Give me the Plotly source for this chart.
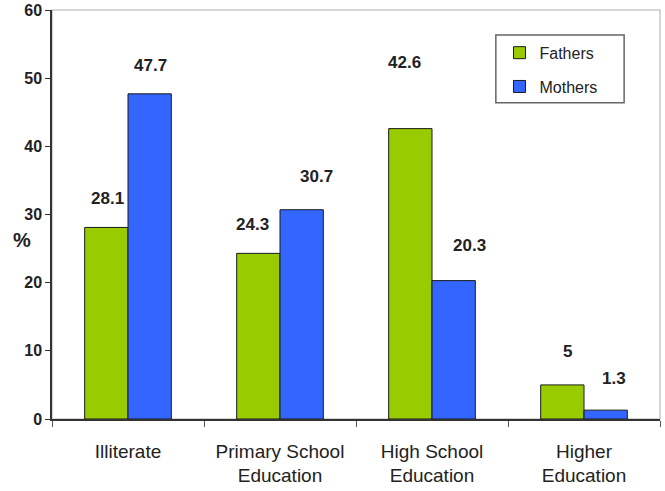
import plotly.graph_objects as go

categories = ["Illiterate", "Primary School<br>Education", "High School<br>Education", "Higher<br>Education"]
fathers = [28.1, 24.3, 42.6, 5]
mothers = [47.7, 30.7, 20.3, 1.3]
y_ticks = [0, 10, 20, 30, 40, 50, 60]

# label placement tweaks (pixels), style only
fathers_dx = [1, -6, -6, 5]
fathers_dy = [29, 29, 66, 33]
mothers_dx = [1, 15, 16, 8]
mothers_dy = [28, 33, 35, 32]

GREEN = "#99CC00"
BLUE = "#3366FF"
FONT = "Liberation Sans, Arial, sans-serif"

fig = go.Figure()
fig.add_trace(go.Bar(name="Fathers", x=categories, y=fathers, marker=dict(color=GREEN, line=dict(color="#1a1a1a", width=1)), legendgroup="f"))
fig.add_trace(go.Bar(name="Mothers", x=categories, y=mothers, marker=dict(color=BLUE, line=dict(color="#1a1a1a", width=1)), legendgroup="m"))

half = 21.5
for vals, dxs, dys, sgn in [(fathers, fathers_dx, fathers_dy, -1), (mothers, mothers_dx, mothers_dy, 1)]:
    for cat, v, dx, dy in zip(categories, vals, dxs, dys):
        fig.add_annotation(x=cat, y=v, text=f"{v:g}", showarrow=False,
                           xshift=sgn * half + dx, yshift=dy, yanchor="middle",
                           font=dict(family=FONT, size=17, color="#222222", weight="bold"))

fig.add_annotation(xref="paper", yref="paper", x=-0.068, y=0.438, text="<b>%</b>", showarrow=False,
                   font=dict(family=FONT, size=20, color="#222222"))

# plot-area frame (light gray top/right)
fig.add_shape(type="rect", xref="paper", yref="paper", x0=0, y0=0, x1=1, y1=1,
              line=dict(color="#c8c8c8", width=1.5), layer="below")
# legend frame
fig.add_shape(type="rect", xref="paper", yref="paper", x0=0.730, x1=0.941, y0=0.773, y1=0.939,
              line=dict(color="#666666", width=1.5), fillcolor="white", layer="above")

fig.update_layout(
    width=665, height=491,
    margin=dict(l=52, r=5, t=10, b=72),
    paper_bgcolor="white", plot_bgcolor="white",
    barmode="group", bargap=0.43, bargroupgap=0,
    font=dict(family=FONT, color="#222222"),
    showlegend=True,
    legend=dict(x=0.736, y=0.937, xanchor="left", yanchor="top",
                borderwidth=0, bgcolor="rgba(0,0,0,0)",
                font=dict(family=FONT, size=16, color="#222222"),
                traceorder="grouped", tracegroupgap=10,
                itemwidth=30),
)
fig.update_xaxes(showline=True, linecolor="#333333", linewidth=1.5, automargin=False,
                 ticks="outside", tickson="boundaries", ticklen=6, tickcolor="#555555",
                 tickfont=dict(family=FONT, size=19, color="#222222"),
                 ticklabelstandoff=14, showgrid=False)
fig.update_yaxes(range=[0, 60], tickvals=y_ticks, showline=True, linecolor="#333333", linewidth=1.5,
                 automargin=False, ticklabeloverflow="allow",
                 ticks="outside", ticklen=5, tickcolor="#333333",
                 tickfont=dict(family=FONT, size=16, color="#222222", weight="bold"),
                 showgrid=False, zeroline=False, ticklabelstandoff=0)

fig.write_html("out.html", config={"displayModeBar": False},
               post_script="document.body.style.margin='0px';")
